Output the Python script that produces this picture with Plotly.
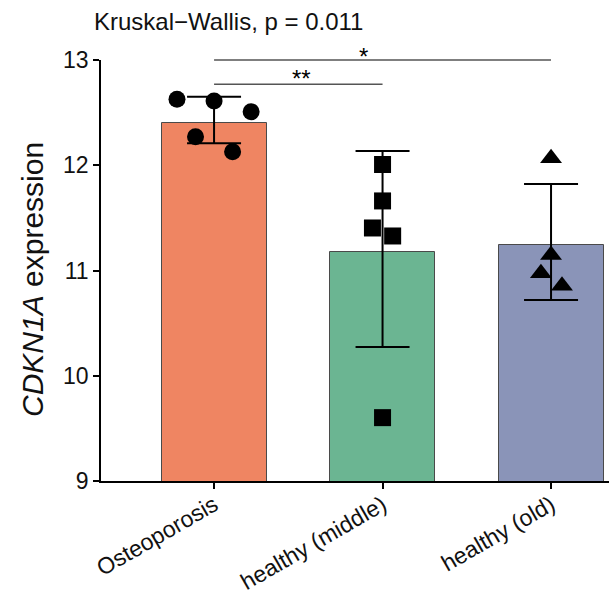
import plotly.graph_objects as go

categories = ["Osteoporosis", "healthy (middle)", "healthy (old)"]
bar_means = [12.404, 11.173, 11.240]
err_plus = [0.247, 0.962, 0.582]
err_minus = [0.195, 0.900, 0.520]
bar_colors = ["#EF8562", "#6BB592", "#8A94B8"]

osteo_vals = [12.627, 12.610, 12.508, 12.271, 12.129]
middle_vals = [12.007, 11.661, 11.404, 11.328, 9.602]
old_vals = [12.066, 11.147, 10.973, 10.856]

# horizontal jitter of the dots (category units)
osteo_jit = [-0.22, 0.0, 0.22, -0.11, 0.11]
middle_jit = [0.0, 0.0, -0.06, 0.06, 0.0]
old_jit = [0.0, 0.0, -0.06, 0.065]

y_ticks = [9, 10, 11, 12, 13]
title_text = "Kruskal\u2212Wallis, p = 0.011"
y_title = "<i>CDKN1A</i> expression"

FONT = "Liberation Sans, Arial, sans-serif"

fig = go.Figure()
xs = list(range(len(categories)))
fig.add_trace(go.Bar(
    x=xs, y=bar_means, width=0.623,
    marker=dict(color=bar_colors, line=dict(color="#4a4a4a", width=1)),
    error_y=dict(type="data", symmetric=False, array=err_plus, arrayminus=err_minus,
                 color="black", thickness=2, width=27),
    showlegend=False, hoverinfo="skip",
))

for i, (vals, jit, sym) in enumerate([(osteo_vals, osteo_jit, "circle"),
                                       (middle_vals, middle_jit, "square"),
                                       (old_vals, old_jit, "triangle-up")]):
    fig.add_trace(go.Scatter(
        x=[i + j for j in jit], y=vals, mode="markers",
        marker=dict(symbol=sym, size=17 if sym != "triangle-up" else 19, color="black",
                    line=dict(width=0)),
        showlegend=False, cliponaxis=False, hoverinfo="skip",
    ))

# significance brackets
brackets = [(0, 1, 12.77, "**", 0.52, -10), (0, 2, 13.0, "*", 0.884, -12)]
for a, b, yv, lab, xl, ys in brackets:
    yp = (yv - 9) / 4
    fig.add_shape(type="line", xref="x", yref="paper", x0=a, x1=b, y0=yp, y1=yp,
                  line=dict(color="#555555", width=1.5))
    fig.add_annotation(x=xl, y=yp, xref="x", yref="paper", text=lab, showarrow=False,
                       yanchor="bottom", yshift=ys, font=dict(size=24, color="black", family=FONT))

fig.add_annotation(x=-9/508, y=(481-22)/421, xref="paper", yref="paper", xanchor="left",
                   yanchor="middle", text=title_text, showarrow=False,
                   font=dict(size=24, color="#111111", family=FONT))

# y-axis title
fig.add_annotation(x=(32-101)/508, y=(481-280)/421, xref="paper", yref="paper",
                   xanchor="center", yanchor="middle", textangle=-90, text=y_title,
                   showarrow=False, font=dict(size=30, color="#111111", family=FONT))

fig.update_layout(
    width=609, height=594,
    margin=dict(l=101, r=0, t=60, b=113),
    plot_bgcolor="white", paper_bgcolor="white",
    font=dict(family=FONT, size=23, color="#111111"),
    bargap=0,
)
fig.update_xaxes(
    range=[-0.671, 2.344], tickvals=xs, ticktext=categories, tickangle=-30,
    showline=True, linecolor="black", linewidth=1.5, ticks="outside", ticklen=6,
    tickwidth=1.5, tickcolor="black", showgrid=False, zeroline=False,
    tickfont=dict(size=23), automargin=False, ticklabelstandoff=-6,
)
fig.update_yaxes(
    range=[9, 13], tickvals=y_ticks, showline=True, linecolor="black", linewidth=1.5,
    ticks="outside", ticklen=6, tickwidth=1.5, tickcolor="black", showgrid=False,
    zeroline=False, tickfont=dict(size=23), automargin=False,
)

fig.write_html("out.html", post_script="document.body.style.margin='0';",
               config={"displayModeBar": False})
